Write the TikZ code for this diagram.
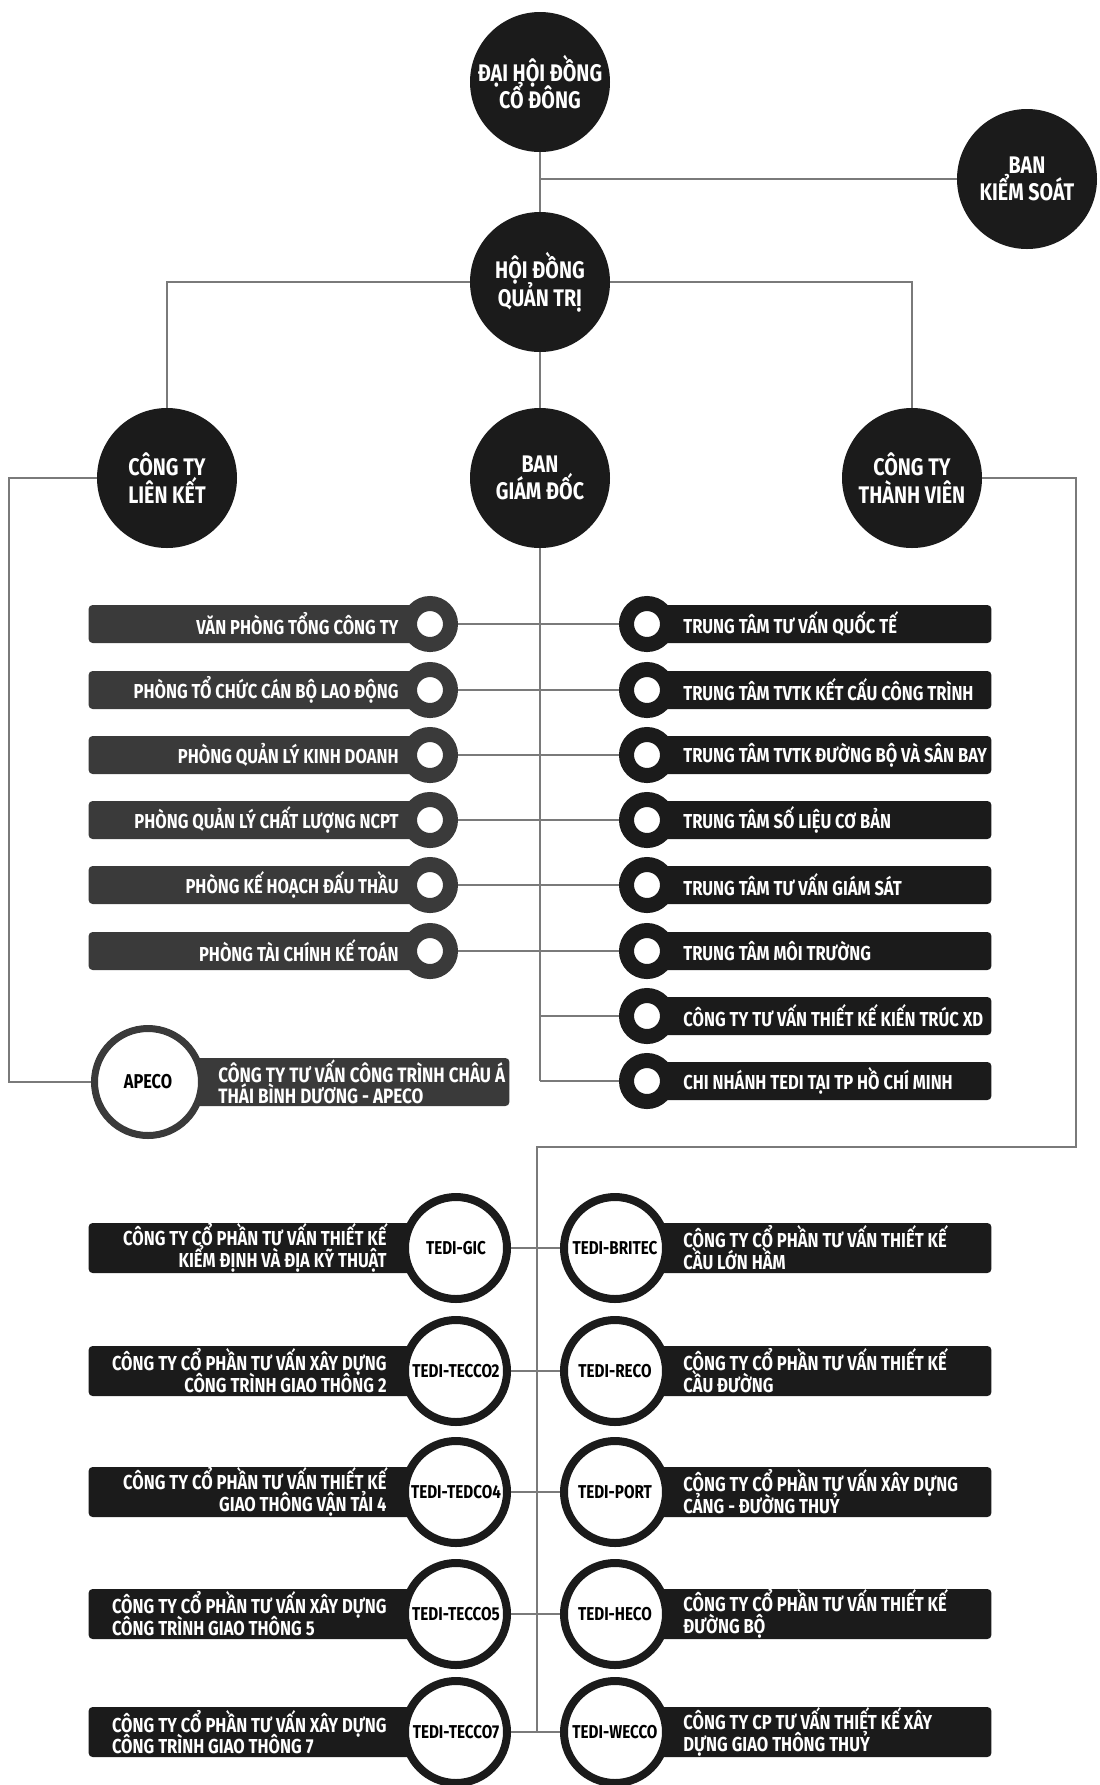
\documentclass[tikz,border=0pt]{standalone}
\usepackage{fontspec}
\setmainfont{Fira Sans}[FakeStretch=0.82]
\usetikzlibrary{positioning}

\definecolor{nearblack}{HTML}{1B1B1B}
\definecolor{darkslate}{HTML}{3A3A3A}
\definecolor{linegray}{HTML}{7A7A7A}

\begin{document}
\begin{tikzpicture}[x=0.5pt, y=-0.5pt,
    head/.style={circle, fill=nearblack, text=white, minimum size=70pt, inner sep=0pt, align=center,
        font={\bfseries\fontsize{12}{13.8}\selectfont\lineskiplimit=-\maxdimen}},
    link/.style={draw=linegray, line width=1pt},
    lbar/.style={rectangle, fill=darkslate, rounded corners=2pt, minimum width=170.5pt, minimum height=19pt, anchor=east, inner sep=0pt},
    rbar/.style={rectangle, fill=nearblack, rounded corners=2pt, minimum width=172pt, minimum height=19pt, anchor=west, inner sep=0pt},
    lring/.style={circle, draw=darkslate, line width=7.5pt, fill=white, minimum size=20.5pt, inner sep=0pt},
    rring/.style={circle, draw=nearblack, line width=7.5pt, fill=white, minimum size=20.5pt, inner sep=0pt},
    bartext/.style={text=white, inner sep=0pt, font=\bfseries\fontsize{10.1}{11}\selectfont},
    lsub/.style={rectangle, fill=nearblack, rounded corners=2pt, minimum width=183.5pt, minimum height=25pt, anchor=east, inner sep=0pt},
    rsub/.style={rectangle, fill=nearblack, rounded corners=2pt, minimum width=188pt, minimum height=25pt, anchor=west, inner sep=0pt},
    unit/.style={circle, draw=nearblack, line width=4pt, fill=white, minimum size=51pt, inner sep=0pt,
        font=\bfseries\fontsize{9.3}{10}\selectfont},
    subtext/.style={text=white, inner sep=0pt, font={\bfseries\fontsize{10.1}{10.9}\selectfont\lineskiplimit=-\maxdimen}}]

    \path[use as bounding box, fill=white] (0,0) rectangle (1099,1785);

    % top of the chart
    \node[head] (dhdcd) at (540,82) {ĐẠI HỘI ĐỒNG\\CỔ ĐÔNG};
    \node[head] (bks) at (1027,179) {BAN\\KIỂM SOÁT};
    \node[head] (hdqt) at (540,282) {HỘI ĐỒNG\\QUẢN TRỊ};
    \node[head] (ctlk) at (167,478) {CÔNG TY\\LIÊN KẾT};
    \node[head] (bgd) at (540,478) {BAN\\GIÁM ĐỐC};
    \node[head] (cttv) at (912,478) {CÔNG TY\\THÀNH VIÊN};

    \draw[link] (dhdcd) -- (hdqt);
    \draw[link] (dhdcd |- bks) -- (bks);
    \draw[link] (ctlk) |- (hdqt) -| (cttv);
    \draw[link] (hdqt) -- (bgd);

    % phong ban (left)
    \node[lbar] (vp-bar) at (430,624) {};
    \node[lring] (vp-ring) at (430,624) {};
    \node[bartext, left=1.5pt of vp-ring] (vp) {VĂN PHÒNG TỔNG CÔNG TY};
    \node[lbar] (tccb-bar) at (430,690) {};
    \node[lring] (tccb-ring) at (430,690) {};
    \node[bartext, left=1.5pt of tccb-ring] (tccb) {PHÒNG TỔ CHỨC CÁN BỘ LAO ĐỘNG};
    \node[lbar] (qlkd-bar) at (430,755) {};
    \node[lring] (qlkd-ring) at (430,755) {};
    \node[bartext, left=1.5pt of qlkd-ring] (qlkd) {PHÒNG QUẢN LÝ KINH DOANH};
    \node[lbar] (qlcl-bar) at (430,820) {};
    \node[lring] (qlcl-ring) at (430,820) {};
    \node[bartext, left=1.5pt of qlcl-ring] (qlcl) {PHÒNG QUẢN LÝ CHẤT LƯỢNG NCPT};
    \node[lbar] (khdt-bar) at (430,885) {};
    \node[lring] (khdt-ring) at (430,885) {};
    \node[bartext, left=1.5pt of khdt-ring] (khdt) {PHÒNG KẾ HOẠCH ĐẤU THẦU};
    \node[lbar] (tckt-bar) at (430,951) {};
    \node[lring] (tckt-ring) at (430,951) {};
    \node[bartext, left=1.5pt of tckt-ring] (tckt) {PHÒNG TÀI CHÍNH KẾ TOÁN};

    % trung tam (right)
    \node[rbar] (ttqt-bar) at (647,624) {};
    \node[rring] (ttqt-ring) at (647,624) {};
    \node[bartext, right=4pt of ttqt-ring] (ttqt) {TRUNG TÂM TƯ VẤN QUỐC TẾ};
    \node[rbar] (kcct-bar) at (647,690) {};
    \node[rring] (kcct-ring) at (647,690) {};
    \node[bartext, right=4pt of kcct-ring] (kcct) {TRUNG TÂM TVTK KẾT CẤU CÔNG TRÌNH};
    \node[rbar] (dbsb-bar) at (647,755) {};
    \node[rring] (dbsb-ring) at (647,755) {};
    \node[bartext, right=4pt of dbsb-ring] (dbsb) {TRUNG TÂM TVTK ĐƯỜNG BỘ VÀ SÂN BAY};
    \node[rbar] (slcb-bar) at (647,820) {};
    \node[rring] (slcb-ring) at (647,820) {};
    \node[bartext, right=4pt of slcb-ring] (slcb) {TRUNG TÂM SỐ LIỆU CƠ BẢN};
    \node[rbar] (tvgs-bar) at (647,885) {};
    \node[rring] (tvgs-ring) at (647,885) {};
    \node[bartext, right=4pt of tvgs-ring] (tvgs) {TRUNG TÂM TƯ VẤN GIÁM SÁT};
    \node[rbar] (mt-bar) at (647,951) {};
    \node[rring] (mt-ring) at (647,951) {};
    \node[bartext, right=4pt of mt-ring] (mt) {TRUNG TÂM MÔI TRƯỜNG};
    \node[rbar] (ktxd-bar) at (647,1016) {};
    \node[rring] (ktxd-ring) at (647,1016) {};
    \node[bartext, right=4pt of ktxd-ring] (ktxd) {CÔNG TY TƯ VẤN THIẾT KẾ KIẾN TRÚC XD};
    \node[rbar] (hcm-bar) at (647,1081) {};
    \node[rring] (hcm-ring) at (647,1081) {};
    \node[bartext, right=4pt of hcm-ring] (hcm) {CHI NHÁNH TEDI TẠI TP HỒ CHÍ MINH};

    \draw[link] (bgd) -- (bgd |- hcm-ring);
    \draw[link] (vp-ring) -- (ttqt-ring);
    \draw[link] (tccb-ring) -- (kcct-ring);
    \draw[link] (qlkd-ring) -- (dbsb-ring);
    \draw[link] (qlcl-ring) -- (slcb-ring);
    \draw[link] (khdt-ring) -- (tvgs-ring);
    \draw[link] (tckt-ring) -- (mt-ring);
    \draw[link] (bgd |- ktxd-ring) -- (ktxd-ring);
    \draw[link] (bgd |- hcm-ring) -- (hcm-ring);

    % cong ty lien ket
    \node[rectangle, fill=darkslate, rounded corners=2pt, minimum width=180.5pt, minimum height=24pt, anchor=west, inner sep=0pt] (apeco-bar) at (148,1082) {};
    \node[circle, draw=darkslate, line width=3.5pt, fill=white, minimum size=53.5pt, inner sep=0pt,
        font=\bfseries\fontsize{10}{12}\selectfont] (apeco) at (148,1082) {APECO};
    \node[subtext, right=6.5pt of apeco, align=left, font={\bfseries\fontsize{10.4}{10.6}\selectfont\lineskiplimit=-\maxdimen}] (apeco-text) {CÔNG TY TƯ VẤN CÔNG TRÌNH CHÂU Á\\THÁI BÌNH DƯƠNG - APECO};
    \coordinate (lturn) at (9,478);
    \draw[link] (ctlk) -- (lturn) |- (apeco);

    % cong ty thanh vien
    \node[lsub] (gic-bar) at (456,1248) {};
    \node[unit] (gic) at (456,1248) {TEDI-GIC};
    \node[subtext, left=7pt of gic, align=right] (gic-text) {CÔNG TY CỔ PHẦN TƯ VẤN THIẾT KẾ\\KIỂM ĐỊNH VÀ ĐỊA KỸ THUẬT};
    \node[lsub] (tecco2-bar) at (456,1371) {};
    \node[unit] (tecco2) at (456,1371) {TEDI-TECCO2};
    \node[subtext, left=7pt of tecco2, align=right] (tecco2-text) {CÔNG TY CỔ PHẦN TƯ VẤN XÂY DỰNG\\CÔNG TRÌNH GIAO THÔNG 2};
    \node[lsub] (tedco4-bar) at (456,1492) {};
    \node[unit] (tedco4) at (456,1492) {TEDI-TEDCO4};
    \node[subtext, left=7pt of tedco4, align=right] (tedco4-text) {CÔNG TY CỔ PHẦN TƯ VẤN THIẾT KẾ\\GIAO THÔNG VẬN TẢI 4};
    \node[lsub] (tecco5-bar) at (456,1614) {};
    \node[unit] (tecco5) at (456,1614) {TEDI-TECCO5};
    \node[subtext, left=7pt of tecco5, align=left] (tecco5-text) {CÔNG TY CỔ PHẦN TƯ VẤN XÂY DỰNG\\CÔNG TRÌNH GIAO THÔNG 5};
    \node[lsub] (tecco7-bar) at (456,1732) {};
    \node[unit] (tecco7) at (456,1732) {TEDI-TECCO7};
    \node[subtext, left=7pt of tecco7, align=left] (tecco7-text) {CÔNG TY CỔ PHẦN TƯ VẤN XÂY DỰNG\\CÔNG TRÌNH GIAO THÔNG 7};

    \node[rsub] (britec-bar) at (615,1248) {};
    \node[unit] (britec) at (615,1248) {TEDI-BRITEC};
    \node[subtext, right=6.5pt of britec, align=left] (britec-text) {CÔNG TY CỔ PHẦN TƯ VẤN THIẾT KẾ\\CẦU LỚN HẦM};
    \node[rsub] (reco-bar) at (615,1371) {};
    \node[unit] (reco) at (615,1371) {TEDI-RECO};
    \node[subtext, right=6.5pt of reco, align=left] (reco-text) {CÔNG TY CỔ PHẦN TƯ VẤN THIẾT KẾ\\CẦU ĐƯỜNG};
    \node[rsub] (port-bar) at (615,1492) {};
    \node[unit] (port) at (615,1492) {TEDI-PORT};
    \node[subtext, right=6.5pt of port, align=left] (port-text) {CÔNG TY CỔ PHẦN TƯ VẤN XÂY DỰNG\\CẢNG - ĐƯỜNG THUỶ};
    \node[rsub] (heco-bar) at (615,1614) {};
    \node[unit] (heco) at (615,1614) {TEDI-HECO};
    \node[subtext, right=6.5pt of heco, align=left] (heco-text) {CÔNG TY CỔ PHẦN TƯ VẤN THIẾT KẾ\\ĐƯỜNG BỘ};
    \node[rsub] (wecco-bar) at (615,1732) {};
    \node[unit] (wecco) at (615,1732) {TEDI-WECCO};
    \node[subtext, right=6.5pt of wecco, align=left] (wecco-text) {CÔNG TY CP TƯ VẤN THIẾT KẾ XÂY\\DỰNG GIAO THÔNG THUỶ};

    \coordinate (rturn) at (1076,1147);
    \coordinate (rjoin) at (537,1147);
    \draw[link] (cttv) -| (rturn) -- (rjoin) -- (rjoin |- wecco);
    \draw[link] (gic) -- (britec);
    \draw[link] (tecco2) -- (reco);
    \draw[link] (tedco4) -- (port);
    \draw[link] (tecco5) -- (heco);
    \draw[link] (tecco7) -- (wecco);
\end{tikzpicture}
\end{document}
